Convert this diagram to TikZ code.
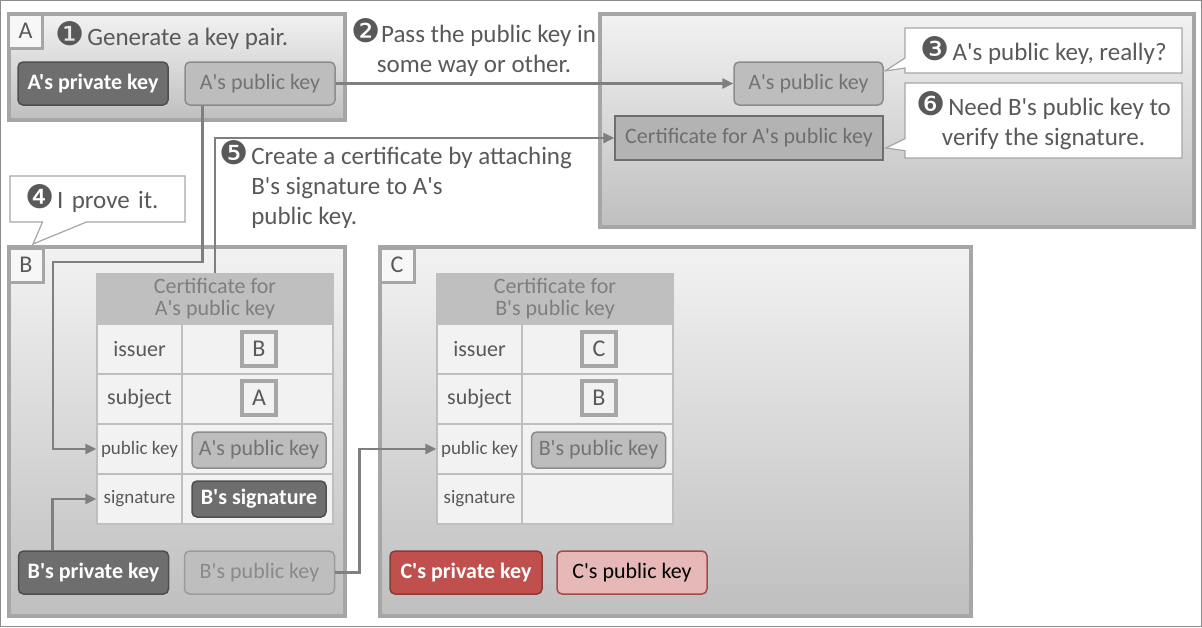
\documentclass[tikz,border=0pt]{standalone}
\usepackage{fontspec}
\setmainfont{Carlito}[Ligatures=TeXOff]
\newfontfamily\numfont{DejaVu Sans}[Scale=1.3]
\usepackage{xcolor}
\usetikzlibrary{arrows.meta,shapes.callouts}

\newcommand\stepno[1]{{\numfont#1}\hspace{3pt}}

\definecolor{framegray}{HTML}{8C8C8C}
\definecolor{boxgray}{HTML}{A6A6A6}
\definecolor{boxtop}{HTML}{F2F2F2}
\definecolor{boxbot}{HTML}{BFBFBF}
\definecolor{tabfill}{HTML}{F7F7F7}
\definecolor{txtgray}{HTML}{595959}
\definecolor{linegray}{HTML}{7F7F7F}
\definecolor{privfill}{HTML}{6E6E6E}
\definecolor{privdraw}{HTML}{4F4F4F}
\definecolor{pubfill}{HTML}{BDBDBD}
\definecolor{pubdraw}{HTML}{8C8C8C}
\definecolor{pubtext}{HTML}{737373}
\definecolor{certfill}{HTML}{B3B3B3}
\definecolor{certdraw}{HTML}{6E6E6E}
\definecolor{cellfill}{HTML}{F2F2F2}
\definecolor{gridgray}{HTML}{BFBFBF}
\definecolor{cprivfill}{HTML}{C0504D}
\definecolor{cprivdraw}{HTML}{8C3A38}
\definecolor{cpubfill}{HTML}{E6B9B8}
\definecolor{cpubdraw}{HTML}{A64A47}

\tikzset{
	party/.style={draw=boxgray, line width=4pt, top color=boxtop, bottom color=boxbot},
	tab/.style={draw=boxgray, line width=3pt, fill=tabfill, text=txtgray, inner sep=0pt, minimum size=34pt, font=\fontsize{24}{28}\selectfont},
	title/.style={text=txtgray, inner sep=0pt, font=\fontsize{25}{30}\selectfont},
	key/.style={rounded corners=5pt, line width=1.5pt, inner sep=0pt, minimum width=150pt, minimum height=43pt, font=\fontsize{22}{26}\selectfont},
	privkey/.style={key, draw=privdraw, fill=privfill, text=white, font=\fontsize{22}{26}\selectfont\bfseries},
	pubkey/.style={key, draw=pubdraw, fill=pubfill, text=pubtext},
	cprivkey/.style={key, draw=cprivdraw, fill=cprivfill, text=white, font=\fontsize{22}{26}\selectfont\bfseries},
	cpubkey/.style={key, draw=cpubdraw, fill=cpubfill, text=black},
	cellkey/.style={minimum width=134pt, minimum height=36pt},
	certbox/.style={draw=certdraw, fill=certfill, text=certdraw, line width=1.5pt, inner sep=0pt, minimum width=268pt, minimum height=44pt, font=\fontsize{22}{26}\selectfont},
	hdr/.style={draw=gridgray, line width=1.5pt, fill=gridgray, text=linegray, inner sep=0pt, minimum width=236pt, minimum height=50pt, align=center, font=\fontsize{22}{22}\selectfont},
	labcell/.style={draw=gridgray, line width=1.5pt, fill=cellfill, text=txtgray, inner sep=0pt, minimum width=85pt, minimum height=50pt},
	valcell/.style={labcell, minimum width=151pt},
	letter/.style={draw=boxgray, line width=4pt, fill=cellfill, text=txtgray, inner sep=0pt, minimum size=34pt, font=\fontsize{24}{28}\selectfont},
	note/.style={rectangle callout, draw=boxgray, line width=1.2pt, fill=white, text=txtgray, inner sep=0pt, align=center, font=\fontsize{25}{30}\selectfont},
	conn/.style={draw=linegray, line width=2.5pt, -{Triangle[length=11pt,width=10pt]}}
}

\begin{document}
\begin{tikzpicture}[x=1pt,y=-1pt]

		\useasboundingbox (0,0) rectangle (1202,627);
		\draw[framegray, line width=1pt] (0.5,0.5) rectangle (1201.5,626.5);

		% the four parties
		\path[party] (9,14) rectangle (345,120);
		\path[party] (600,14) rectangle (1194,227);
		\path[party] (9,247) rectangle (345,616);
		\path[party] (380,247) rectangle (971,616);

		\node[tab] (tabA) at (25.5,31) {A};
		\node[tab] (tabB) at (26,265) {B};
		\node[tab] (tabC) at (397,265) {C};

		% A
		\node[title, anchor=west] (stepGen) at (55,36) {\stepno{❶}Generate a key pair.};
		\node[privkey] (privA) at (93,83.5) {A's private key};
		\node[pubkey] (pubA) at (260,83.5) {A's public key};

		\node[title, align=center] (stepPass) at (474,48) {{\numfont ❷}Pass the public key in\\some way or other.};

		% receiver
		\node[pubkey, minimum width=149pt] (pubAR) at (808.5,83.5) {A's public key};
		\node[certbox] (certAR) at (749,138) {Certificate for A's public key};
		\node[note, minimum width=277pt, minimum height=45pt, callout absolute pointer={(885,71)}, callout pointer width=10pt] (noteReally) at (1043.5,50.5) {\stepno{❸}A's public key, really?};
		\node[note, minimum width=277pt, minimum height=75pt, callout absolute pointer={(886,148)}, callout pointer width=12pt] (noteNeed) at (1043.5,120.5) {\stepno{❻}Need B's public key to\\verify the signature.};

		\node[title, align=left, anchor=north west] (stepCert) at (219,140) {\stepno{❺}Create a certificate by attaching\\\phantom{\stepno{❺}}B's signature to A's\\\phantom{\stepno{❺}}public key.};
		\node[note, text width=145pt, inner xsep=15pt, align=left, minimum height=46pt, callout absolute pointer={(33,244)}, callout pointer width=44pt] (noteProve) at (97.5,199) {\stepno{❹}I prove it.};

		% certificate tables
		\node[hdr] (hdrB) at (215,299) {Certificate for\\A's public key};
		\node[hdr] (hdrC) at (555,299) {Certificate for\\B's public key};
		\foreach \y/\lab/\nm/\fs in {349/issuer/is/22,399/subject/sub/22,449/public key/pk/19,499/signature/sig/19} {
			\node[labcell] (\nm B) at (139.5,\y) {\fontsize{\fs}{22}\selectfont\lab};
			\node[valcell] (\nm Bv) at (257.5,\y) {};
			\node[labcell] (\nm C) at (479.5,\y) {\fontsize{\fs}{22}\selectfont\lab};
			\node[valcell] (\nm Cv) at (597.5,\y) {};
		}

		\node[letter] (issB) at (259,349) {B};
		\node[letter] (subB) at (259,398) {A};
		\node[pubkey, cellkey] (pubAinB) at (259,450) {A's public key};
		\node[privkey, cellkey] (sigBinB) at (259,499) {B's signature};

		\node[letter] (issC) at (599,349) {C};
		\node[letter] (subC) at (599,398) {B};
		\node[pubkey, cellkey] (pubBinC) at (598.5,450) {B's public key};

		% B and C keys
		\node[privkey] (privB) at (93.5,572.5) {B's private key};
		\node[pubkey, fill=pubfill!60!boxbot, draw=pubdraw!70!boxbot, text=pubtext!70!boxbot] (pubB) at (259.5,572.5) {B's public key};
		\node[cprivkey, minimum width=152pt] (privC) at (466,572.5) {C's private key};
		\node[cpubkey] (pubC) at (632,572.5) {C's public key};

		% connectors
		\coordinate (turnB) at (53,262);
		\draw[conn] (pubA) -- (pubAR);
		\draw[conn] ([xshift=18pt]pubA.south west) |- (turnB) |- (pkB.west);
		\draw[conn] (hdrB.north) |- (certAR.west);
		\draw[conn] ([xshift=34.5pt]privB.north west) |- (sigB.west);
		\draw[conn] (pubB.east) -| ([xshift=-77pt]pkC.west) -- (pkC.west);

\end{tikzpicture}
\end{document}
